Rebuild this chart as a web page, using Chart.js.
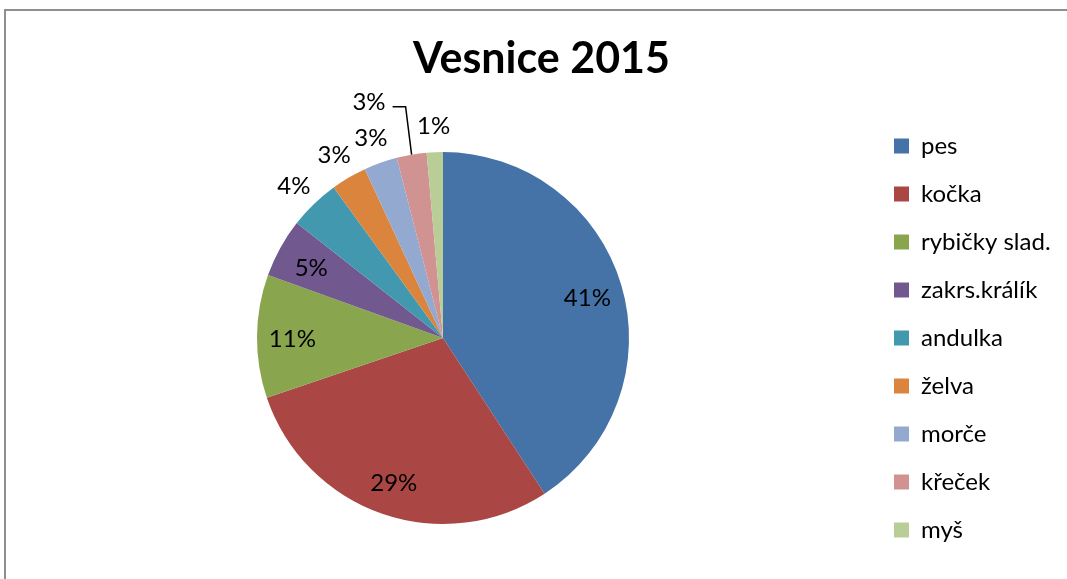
<!DOCTYPE html>
<html>
<head>
<meta charset="utf-8">
<script src="https://cdn.jsdelivr.net/npm/chart.js@4"></script>
<style>
  html, body { margin: 0; padding: 0; background: #fff; overflow: hidden; }
  #wrap { position: relative; width: 1067px; height: 579px; overflow: hidden; }
  #frame { position: absolute; left: 4px; top: 9px; width: 2000px; height: 2000px;
           border-left: 2px solid #8f8f8f; border-top: 2px solid #8f8f8f; }
  #box { position: absolute; left: 0; top: 0; width: 1067px; height: 579px; }
</style>
</head>
<body>
<div id="wrap">
  <div id="frame"></div>
  <div id="box"><canvas id="pie01"></canvas></div>
</div>
<script>
const titre = 'Vesnice 2015';
const categories = ['pes', 'kočka', 'rybičky slad.', 'zakrs.králík', 'andulka', 'želva', 'morče', 'křeček', 'myš'];
const valeurs = [40.8, 29.0, 10.7, 5.1, 4.4, 3.1, 2.9, 2.6, 1.4];
const couleurs = ['#4572A7', '#AA4643', '#89A54E', '#71588F', '#4198AF', '#DB843D', '#93A9CF', '#D19392', '#B9CD96'];

const FONT = 'Lato, Carlito, Calibri, sans-serif';

// largeur fixe de la legende
const largeurLegende = {
    id: 'largeurLegende',
    beforeInit(chart) {
        const fit = chart.legend.fit;
        chart.legend.fit = function () {
            fit.bind(chart.legend)();
            this.width = 197;
        };
    }
};

// pourcentages dessines sur / autour des parts
const etiquettes = {
    id: 'etiquettes',
    afterDatasetsDraw(chart) {
        const ctx = chart.ctx;
        const meta = chart.getDatasetMeta(0);
        const total = valeurs.reduce((a, b) => a + b, 0);
        ctx.save();
        ctx.font = '24px ' + FONT;
        ctx.fillStyle = '#000';
        ctx.textBaseline = 'middle';
        ctx.textAlign = 'center';

        const items = meta.data.map((arc, i) => {
            const p = arc.getProps(['x', 'y', 'startAngle', 'endAngle', 'outerRadius'], true);
            const pct = Math.round(valeurs[i] / total * 100);
            const txt = pct + '%';
            const mid = (p.startAngle + p.endAngle) / 2;
            const dedans = pct >= 5;
            const r = dedans ? p.outerRadius * 0.81 : p.outerRadius + 29;
            return {
                p, mid, txt, dedans,
                w: ctx.measureText(txt).width,
                x: p.x + Math.cos(mid) * r,
                y: p.y + Math.sin(mid) * r + 3
            };
        });

        items.forEach((it, i) => {
            const suivant = items[i + 1];
            const chevauche = !it.dedans && suivant && !suivant.dedans &&
                Math.abs(suivant.x - it.x) < (suivant.w + it.w) / 2 && Math.abs(suivant.y - it.y) < 20;
            if (chevauche) {
                // etiquette repoussee avec trait de rappel
                const ex = it.p.x + Math.cos(it.mid) * it.p.outerRadius;
                const ey = it.p.y + Math.sin(it.mid) * it.p.outerRadius;
                const kx = ex - 6, ky = ey - 48;
                ctx.strokeStyle = '#000';
                ctx.lineWidth = 1.5;
                ctx.beginPath();
                ctx.moveTo(ex, ey);
                ctx.lineTo(kx, ky);
                ctx.lineTo(kx - 13, ky);
                ctx.stroke();
                it.x = kx - 20 - it.w / 2;
                it.y = ky - 4;
            }
            ctx.fillText(it.txt, it.x, it.y);
        });
        ctx.restore();
    }
};

const ctx = document.getElementById('pie01');
new Chart(ctx, {
    type: 'pie',
    data: {
        labels: categories,
        datasets: [
            {
                data: valeurs,
                backgroundColor: couleurs,
                borderWidth: 0,
                hoverOffset: 0,
                radius: 186
            }
        ]
    },
    options: {
        responsive: true,
        maintainAspectRatio: false,
        animation: false,
        layout: {
            padding: { left: 16, right: 0, top: 0, bottom: 3 }
        },
        plugins: {
            title: {
                display: true,
                text: titre,
                color: '#000',
                font: { family: FONT, size: 43, weight: 'bold' },
                padding: { top: 33, bottom: 15.4 }
            },
            legend: {
                position: 'right',
                fullSize: false,
                labels: {
                    color: '#000',
                    font: { family: FONT, size: 24 },
                    boxWidth: 15,
                    boxHeight: 15,
                    padding: 24
                }
            },
            tooltip: { enabled: false }
        }
    },
    plugins: [etiquettes, largeurLegende]
});
</script>
</body>
</html>
